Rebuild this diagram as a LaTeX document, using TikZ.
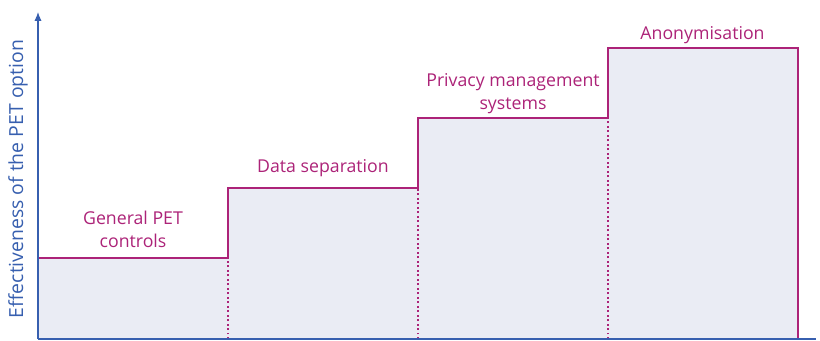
\documentclass[tikz,border=0pt]{standalone}
\usepackage{fontspec}
\setmainfont{Open Sans}
\usetikzlibrary{arrows.meta}
\definecolor{petmagenta}{RGB}{172,35,120}
\definecolor{petblue}{RGB}{55,95,175}
\definecolor{petfill}{RGB}{234,236,244}
\tikzstyle{stepblock}=[fill=petfill,inner sep=0pt,outer sep=0pt,minimum width=4.75cm,anchor=south west]
\tikzstyle{steplabel}=[text=petmagenta,align=center,anchor=base,font=\fontsize{12.6}{17}\selectfont]
\tikzstyle{stepline}=[petmagenta,line width=1.2pt]
\tikzstyle{riser}=[petmagenta,dotted,line width=1.2pt]
\tikzstyle{axisline}=[petblue,line width=0.9pt]

\begin{document}
\begin{tikzpicture}
\useasboundingbox (0,0) rectangle (20.5,8.525);

\node[stepblock,minimum height=2.025cm] (S1) at (0.95cm,0.05cm) {};
\node[stepblock,minimum height=3.775cm] (S2) at (5.7cm,0.05cm) {};
\node[stepblock,minimum height=5.525cm] (S3) at (10.45cm,0.05cm) {};
\node[stepblock,minimum height=7.275cm] (S4) at (15.2cm,0.05cm) {};

% staircase outline
\draw[stepline] (S1.north west) -- (S1.north east) -- (S2.north west) -- (S2.north east)
 -- (S3.north west) -- (S3.north east) -- (S4.north west) -- (S4.north east) -- (S4.south east);
\draw[riser] (S1.south east) -- (S1.north east);
\draw[riser] (S2.south east) -- (S2.north east);
\draw[riser] (S3.south east) -- (S3.north east);

\node[steplabel] (L1) at (3.325cm,2.325cm) {General PET\\controls};
\node[steplabel] (L2) at (8.075cm,4.2cm) {Data separation};
\node[steplabel] (L3) at (12.825cm,5.775cm) {Privacy management\\systems};
\node[steplabel] (L4) at (17.5625cm,7.525cm) {Anonymisation};

% axes
\coordinate (O) at (0.95cm,0.05cm);
\coordinate (YTOP) at (0.95cm,8.225cm);
\coordinate (XEND) at (20.4cm,0.05cm);
\draw[axisline] (O) -- (XEND);
\draw[axisline,-{Latex[length=2.2mm,width=1.8mm]}] (O) -- (YTOP);
\node[text=petblue,rotate=90,font=\fontsize{13.8}{16}\selectfont] (YLABEL) at (0.45cm,4.05cm) {Effectiveness of the PET option};

\end{tikzpicture}
\end{document}
